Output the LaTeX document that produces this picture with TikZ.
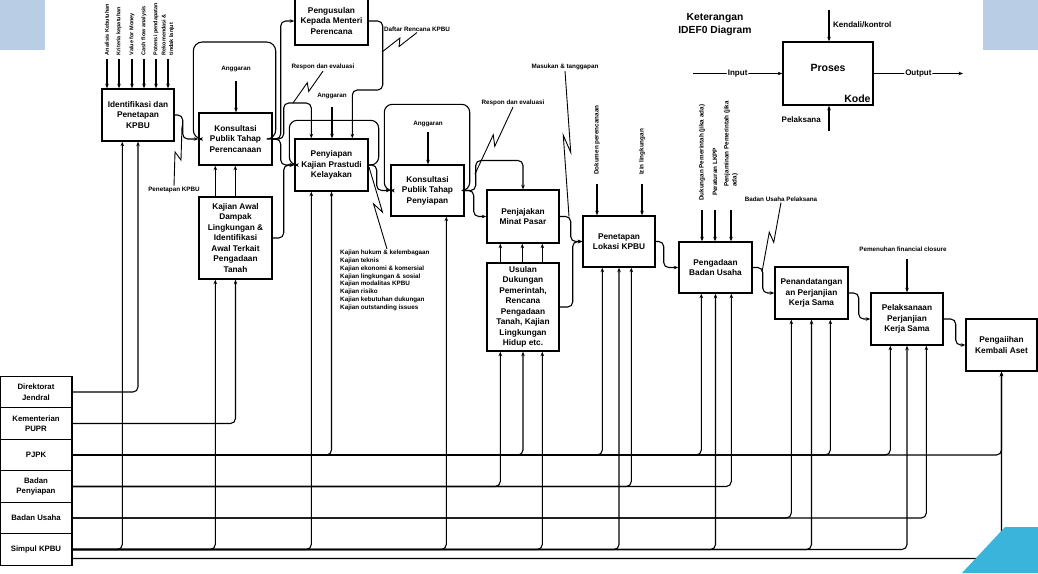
\documentclass[tikz,border=0pt]{standalone}
\usepackage{fontspec}
\setmainfont{Liberation Sans}
\usetikzlibrary{calc,arrows.meta}
\definecolor{tlblue}{HTML}{B9CDE5}
\definecolor{cyanc}{HTML}{3AB4DA}
\newcommand{\sqg}[2]{\draw[squig] (#1) -- ($(#1)!0.56!(#2)!3.5pt!90:(#2)$) -- ($(#1)!0.44!(#2)!3.5pt!-90:(#2)$) -- (#2);}
\begin{document}
\begin{tikzpicture}[x=1pt,y=-1pt,
  box/.style={draw, line width=1.4pt, fill=white, inner sep=0pt, align=center, font=\bfseries\fontsize{8.3}{10.5}\selectfont},
  actor/.style={draw, line width=1.2pt, fill=white, inner sep=0pt, minimum width=72pt, minimum height=31.5pt, align=center, font=\bfseries\fontsize{7.8}{10.5}\selectfont},
  lbl/.style={inner sep=1pt, font=\bfseries\fontsize{6.3}{7.8}\selectfont},
  rlbl/.style={lbl, rotate=90, anchor=west, align=left},
  tlbl/.style={rlbl, inner sep=0.5pt, font=\bfseries\fontsize{5.5}{7.6}\selectfont},
  legsmall/.style={inner sep=1pt, font=\bfseries\fontsize{8}{10}\selectfont},
  conn/.style={line width=1.1pt, rounded corners=5pt},
  arr/.style={conn, -{Stealth[length=4.5pt,width=3.5pt]}},
  squig/.style={line width=0.9pt},
]
\useasboundingbox (0,0) rectangle (1038,573);
\fill[tlblue] (0,0) rectangle (45,50);
\fill[tlblue] (983,0) rectangle (1038,50);

% actor boxes
\node[actor] (dj) at (36,392) {Direktorat\\Jendral};
\node[actor] (pupr) at (36,423.5) {Kementerian\\PUPR};
\node[actor] (pjpk) at (36,455) {PJPK};
\node[actor] (bp) at (36,486.5) {Badan\\Penyiapan};
\node[actor] (bu) at (36,518) {Badan Usaha};
\node[actor] (simpul) at (36,549.5) {Simpul KPBU};

% process boxes
\node[box,minimum width=72pt,minimum height=52pt] (id) at (138,115) {Identifikasi dan\\Penetapan\\KPBU};
\node[box,minimum width=73pt,minimum height=52pt] (kpp) at (235.5,139) {Konsultasi\\Publik Tahap\\Perencanaan};
\node[box,minimum width=73pt,minimum height=82pt] (kaj) at (235.5,238) {Kajian Awal\\Dampak\\Lingkungan \&\\Identifikasi\\Awal Terkait\\Pengadaan\\Tanah};
\node[box,minimum width=73pt,minimum height=48pt] (pgs) at (331.5,21) {Pengusulan\\Kepada Menteri\\Perencana};
\node[box,minimum width=73pt,minimum height=52pt] (pks) at (331.5,165) {Penyiapan\\Kajian Prastudi\\Kelayakan};
\node[box,minimum width=73pt,minimum height=51pt] (kps) at (427.5,190.5) {Konsultasi\\Publik Tahap\\Penyiapan};
\node[box,minimum width=72pt,minimum height=53pt] (pmp) at (523,216.5) {Penjajakan\\Minat Pasar};
\node[box,minimum width=72pt,minimum height=88pt] (usl) at (523,307) {Usulan\\Dukungan\\Pemerintah,\\Rencana\\Pengadaan\\Tanah, Kajian\\Lingkungan\\Hidup etc.};
\node[box,minimum width=72pt,minimum height=51pt] (plk) at (619,241.5) {Penetapan\\Lokasi KPBU};
\node[box,minimum width=73pt,minimum height=51pt] (pbu) at (715.5,267.5) {Pengadaan\\Badan Usaha};
\node[box,minimum width=73pt,minimum height=52pt] (ppk) at (811.5,293) {Penandatangan\\an Perjanjian\\Kerja Sama};
\node[box,minimum width=72pt,minimum height=52pt] (pel) at (907,319) {Pelaksanaan\\Perjanjian\\Kerja Sama};
\node[box,minimum width=71pt,minimum height=52pt] (pka) at (1001.5,345) {Pengaiihan\\Kembali Aset};

% box to box flows
\draw[arr] (id.east) -- ++(8,0) |- (kpp.west);
\draw[arr,rounded corners=9pt] (kpp.east) -- ++(3,0) -- ++(0,-97) -| ([xshift=-5pt]kpp.west) -- (kpp.west);
\draw[arr] (kpp.east) -- ++(8,0) |- (pgs.west);
\draw[arr] (kpp.east) -- ++(8,0) |- (pks.west);
\draw[arr] (kaj.east) -- ++(11,0) |- (pks.west);
\draw[arr] (kpp.east) -- ++(11,0) -- ++(0,-36) -| ([xshift=17pt]pks.north west);
\draw[arr,rounded corners=8pt] (pks.east) -- ++(10,0) |- ([xshift=-5pt,yshift=18pt]pks.north west) |- (pks.west);
\draw[arr] (pgs.east) -- ++(14,0) -- ++(0,69) -| ([xshift=58pt]pks.north west);
\draw[arr] (pks.east) -- ++(8,0) |- (kps.west);
\draw[arr,rounded corners=8pt] (kps.east) -- ++(5,0) |- ([xshift=-6pt,yshift=60pt]kps.north west) |- (kps.west);
\draw[arr] (kps.east) -- ++(9,0) |- (pmp.west);
\draw[arr] (kps.east) -- ++(11,0) -- ++(0,-30) -| (pmp.north);
\draw[arr] (pmp.east) -- ++(11,0) |- (plk.west);
\draw[arr] (usl.east) -- ++(13,0) |- (plk.west);
\draw[arr] (plk.east) -- ++(8,0) |- (pbu.west);
\draw[arr] (pbu.east) -- ++(10,0) |- (ppk.west);
\draw[arr] (ppk.east) -- ++(10,0) |- (pel.west);
\draw[arr] (pel.east) -- ++(12,0) |- (pka.west);
\foreach \dx in {14,36,56} \draw[arr] ([xshift=\dx pt]usl.north west) -- ([xshift=\dx pt]pmp.south west);
\foreach \dx in {17,37} \draw[arr] ([xshift=\dx pt]kaj.north west) -- ([xshift=\dx pt]kpp.south west);

% controls
\node[tlbl] (c1) at (107,56) {Analisis Kebutuhan};
\node[tlbl] (c2) at (119,56) {Kriteria kepatuhan};
\node[tlbl] (c3) at (132,56) {Value for Money};
\node[tlbl] (c4) at (144,56) {Cash flow analysis};
\node[tlbl] (c5) at (156,56) {Potensi pendapatan};
\node[tlbl] (c6) at (168,56) {Rekomendasi \&\\tindak lanjut};
\foreach \c in {c1,c2,c3,c4,c5,c6} \draw[arr] (\c.west) ++(0,3) -- (\c.west |- id.north);

\node[lbl] (ag1) at (236,69) {Anggaran};
\draw[arr] (ag1.south) ++(0,8) -- (ag1.south |- kpp.north);
\node[lbl] (ag2) at (332,96) {Anggaran};
\draw[arr] (ag2.south) ++(0,7) -- (ag2.south |- pks.north);
\node[lbl] (ag3) at (428,124) {Anggaran};
\draw[arr] (ag3.south) ++(0,4) -- (ag3.south |- kps.north);

\node[rlbl] (e1) at (597,176) {Dokumen perencanaan};
\node[rlbl] (e2) at (642,176) {Izin lingkungan};
\draw[arr] (e1.west) ++(0,8) -- (e1.west |- plk.north);
\draw[arr] (e2.west) ++(0,8) -- (e2.west |- plk.north);

\node[rlbl] (d1) at (702,202) {Dukungan Pemerintah (jika ada)};
\node[rlbl] (d2) at (715,197) {Peraturan LKPP};
\node[rlbl] (d3) at (731,188) {Penjaminan Pemerintah (jika\\ada)};
\draw[arr] (d1.west) ++(0,8) -- (d1.west |- pbu.north);
\draw[arr] (d2.west) ++(0,13) -- (d2.west |- pbu.north);
\draw[arr] (d3.west) ++(0,22) -- (d3.west |- pbu.north);

\node[lbl] (pfc) at (903,249) {Pemenuhan financial closure};
\draw[arr] (pfc.south -| pel.north) ++(0,6) -- (pel.north);

% output labels with squiggles
\node[lbl] (pkpbu) at (174,190) {Penetapan KPBU};
\coordinate (sq1) at (182,126);
\sqg{pkpbu.north}{sq1}
\node[lbl] (resp1) at (323,67) {Respon dan evaluasi};
\coordinate (sq2) at (293,103);
\sqg{resp1.south}{sq2}
\node[lbl] (dftr) at (417,29) {Daftar Rencana KPBU};
\coordinate (sq3) at (382,52);
\sqg{dftr.south}{sq3}
\node[lbl,anchor=north west,align=left] (klist) at (339,249) {Kajian hukum \& kelembagaan\\Kajian teknis\\Kajian ekonomi \& komersial\\Kajian lingkungan \& sosial\\Kajian modalitas KPBU\\Kajian risiko\\Kajian kebutuhan dukungan\\Kajian outstanding issues};
\coordinate (sq4) at (369,167);
\sqg{[xshift=48pt]klist.north west}{sq4}
\node[lbl] (resp2) at (513,103) {Respon dan evaluasi};
\coordinate (sq5) at (475,174);
\sqg{resp2.south}{sq5}
\node[lbl] (msk) at (565,67) {Masukan \& tanggapan};
\coordinate (sq6) at (569,216.5);
\sqg{msk.south}{sq6}
\node[lbl] (bup) at (781,199) {Badan Usaha Pelaksana};
\coordinate (sq7) at (762,272);
\sqg{bup.south}{sq7}

% mechanisms (actors)
\draw[arr] (dj.east) -| (id.south);
\draw[arr] (simpul.east) -| ([xshift=21pt]id.south west);
\draw[arr] (pupr.east) -| (kaj.south);
\draw[arr] (simpul.east) -| ([xshift=17pt]kaj.south west);
\draw[arr] (simpul.east) -| ([xshift=17pt]pks.south west);
\draw[arr] (pjpk.east) -| (pks.south);
\draw[arr] (simpul.east) -| ([xshift=56pt]kps.south west);
\draw[arr] (bp.east) -| ([xshift=14pt]usl.south west);
\draw[arr] (pjpk.east) -| (usl.south);
\draw[arr] (simpul.east) -| ([xshift=56pt]usl.south west);
\draw[arr] (pjpk.east) -| ([xshift=20pt]plk.south west);
\draw[arr] (simpul.east) -| (plk.south);
\draw[arr] (bp.east) -| ([xshift=49pt]plk.south west);
\draw[arr] (pjpk.east) -| ([xshift=23pt]pbu.south west);
\draw[arr] (simpul.east) -| (pbu.south);
\draw[arr] (bp.east) -| ([xshift=53pt]pbu.south west);
\draw[arr] (bu.east) -| ([xshift=17pt]ppk.south west);
\draw[arr] (simpul.east) -| (ppk.south);
\draw[arr] (pjpk.east) -| ([xshift=56pt]ppk.south west);
\draw[arr] (pjpk.east) -| ([xshift=20pt]pel.south west);
\draw[arr] (simpul.east) -| (pel.south);
\draw[arr] (bu.east) -| ([xshift=56pt]pel.south west);
\draw[arr] (pjpk.east) -| (pka.south);
\draw[arr] ([yshift=-9pt]simpul.east) -| (pka.south);

% legend
\node[font=\bfseries\fontsize{10.3}{13}\selectfont,align=center] (ket) at (715,25) {Keterangan\\IDEF0 Diagram};
\node[draw,line width=1.4pt,minimum width=90pt,minimum height=63pt,inner sep=0pt] (leg) at (828,73.5) {};
\node[font=\bfseries\fontsize{10.5}{12}\selectfont] (proses) at ([yshift=6pt]leg.center) {Proses};
\node[anchor=south east,inner sep=3pt,font=\bfseries\fontsize{10.5}{12}\selectfont] (kode) at (leg.south east) {Kode};
\coordinate (inL) at (693,73.5);
\coordinate (outR) at (963,73.5);
\draw[arr] (inL) -- node[fill=white,legsmall] (inlbl) {Input} (leg.west);
\draw[arr] (leg.east) -- node[fill=white,legsmall] (outlbl) {Output} (outR);
\coordinate (ctop) at (829,10);
\coordinate (cbot) at (829,131);
\draw[arr] (ctop) -- (ctop |- leg.north);
\draw[arr] (cbot) -- (cbot |- leg.south);
\node[legsmall,anchor=west] (kend) at (832,25) {Kendali/kontrol};
\node[legsmall,anchor=east] (pelk) at (822,120) {Pelaksana};

% decorative corner
\fill[cyanc] (962,573) -- (1005,527) -- (1038,527) -- (1038,573) -- cycle;
\end{tikzpicture}
\end{document}
